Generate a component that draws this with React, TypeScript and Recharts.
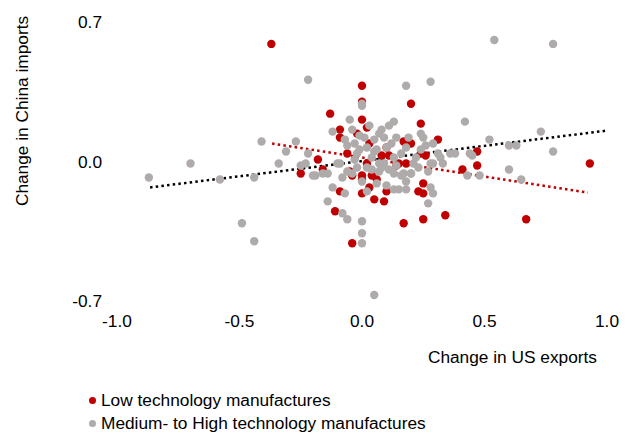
import React from 'react';
import { ReferenceLine, Scatter, ScatterChart, XAxis, YAxis, Label } from 'recharts';

const xTicks = [-1.0, -0.5, 0.0, 0.5, 1.0];
const yTicks = [-0.7, 0.0, 0.7];

// Low technology manufactures: [US exports change, China imports change]
const lowTech: [number, number][] = [
  [-0.37, 0.59], [0.0, 0.38], [0.0, 0.3], [0.0, 0.21], [0.02, 0.17], [-0.02, 0.14],
  [-0.13, 0.24], [-0.09, 0.16], [-0.09, 0.12], [0.2, 0.29], [0.24, 0.19], [0.31, 0.11],
  [0.17, 0.1], [0.2, 0.09], [-0.18, 0.01], [-0.16, -0.04], [-0.25, -0.06], [0.47, 0.05],
  [0.41, -0.04], [0.47, -0.02], [0.93, -0.01], [-0.09, -0.15], [0.0, -0.16], [0.05, -0.19],
  [0.09, -0.2], [-0.11, -0.25], [-0.04, -0.41], [0.17, -0.31], [0.25, -0.29], [0.34, -0.27],
  [0.67, -0.29], [0.23, -0.15], [0.25, -0.16], [0.25, -0.11], [0.1, -0.15], [-0.05, -0.05],
  [0.0, -0.07], [0.03, -0.13], [-0.06, 0.04], [0.14, -0.02], [0.03, 0.09], [0.08, 0.03],
  [0.02, -0.01], [-0.04, -0.07], [0.1, 0.07], [0.11, 0.03], [0.24, 0.04], [0.26, 0.03],
  [0.18, -0.01], [0.04, -0.07], [0.06, -0.09], [0.0, -0.09], [0.15, -0.01],
];

// Medium- to High technology manufactures
const highTech: [number, number][] = [
  [-0.87, -0.08], [-0.7, -0.01], [-0.58, -0.09], [-0.44, -0.08], [-0.49, -0.31], [-0.44, -0.4],
  [-0.41, 0.1], [-0.34, -0.01], [-0.22, 0.41], [0.18, 0.38], [0.28, 0.4], [0.0, 0.29],
  [-0.05, 0.21], [-0.12, 0.15], [-0.04, 0.16], [0.13, 0.2], [0.11, 0.18], [0.07, 0.14],
  [-0.27, 0.1], [-0.31, 0.05], [-0.22, 0.04], [-0.25, -0.02], [0.24, 0.14], [0.25, 0.12],
  [0.29, 0.09], [0.36, 0.04], [0.54, 0.61], [0.78, 0.59], [0.42, 0.2], [0.73, 0.15],
  [0.52, 0.11], [0.6, 0.08], [0.63, 0.08], [0.78, 0.05], [0.38, 0.04], [0.44, 0.04],
  [0.45, 0.03], [0.32, 0.02], [0.6, -0.04], [-0.23, -0.01], [-0.19, -0.07], [-0.16, -0.06],
  [-0.12, -0.13], [-0.07, -0.16], [-0.14, -0.2], [-0.08, -0.26], [-0.06, -0.29], [0.0, -0.3],
  [0.0, -0.36], [0.0, -0.41], [0.02, -0.15], [0.06, -0.11], [0.1, -0.12], [0.13, -0.14],
  [0.15, -0.14], [0.18, -0.14], [0.2, -0.06], [0.18, -0.1], [0.28, -0.13], [0.29, -0.16],
  [0.27, -0.21], [0.05, -0.67], [-0.1, -0.01], [-0.08, -0.08], [-0.06, -0.05], [0.0, -0.1],
  [0.17, -0.06], [0.27, -0.05], [0.29, -0.01], [0.33, -0.01], [0.43, -0.07], [0.48, -0.07],
  [0.65, -0.09], [0.0, 0.28], [0.01, 0.12], [0.02, 0.07], [-0.06, 0.08], [-0.02, 0.04],
  [0.05, 0.05], [0.1, 0.07], [-0.09, -0.01], [0.07, -0.01], [-0.02, -0.03], [0.09, 0.12],
  [0.14, 0.12], [0.18, 0.07], [0.24, 0.06], [0.31, 0.04], [0.13, 0.02], [0.21, -0.01],
  [0.28, -0.01], [-0.2, -0.07], [-0.14, -0.06], [-0.04, -0.06], [0.02, -0.03], [0.07, -0.05],
  [0.09, -0.01], [0.13, -0.06], [0.16, -0.07], [0.2, -0.06], [0.14, -0.02], [0.08, -0.03],
  [0.03, 0.18], [-0.01, 0.13], [0.05, 0.11], [-0.07, 0.11], [0.04, 0.02], [-0.03, 0.09],
  [0.06, 0.06], [0.12, 0.09], [0.16, 0.04], [0.22, 0.02], [0.04, -0.04], [0.11, -0.04],
  [-0.01, 0.06], [0.19, 0.12], [0.26, 0.08], [0.08, 0.16], [-0.03, 0.01], [0.23, -0.03],
];

// trend line end points
const allTrend = [{ x: -0.865, y: -0.13 }, { x: 1.0, y: 0.155 }];
const lowTrend = [{ x: -0.367, y: 0.09 }, { x: 0.922, y: -0.156 }];

const RED = '#C00000';
const GREY = '#AFABAB';
const FONT = '"Liberation Sans", Arial, sans-serif';
const FS = 17.3;

const toPts = (arr: [number, number][]) => arr.map(([x, y]) => ({ x, y }));

const dot = (color: string) => (props: any) => (
  <circle cx={props.cx} cy={props.cy} r={4.2} fill={color} />
);

const legendItems = [
  { label: 'Low technology manufactures', color: RED },
  { label: 'Medium- to High technology manufactures', color: GREY },
];

export default function App() {
  return (
    <div style={{ position: 'absolute', left: 0, top: 0, width: 634, height: 432, fontFamily: FONT, background: '#fff' }}>
      <ScatterChart width={634} height={432} margin={{ top: 22, right: 27, bottom: 71, left: 0 }}>
        <XAxis
          type="number"
          dataKey="x"
          domain={[-1, 1]}
          ticks={xTicks}
          tickFormatter={(v: number) => v.toFixed(1)}
          axisLine={false}
          tickLine={false}
          tickMargin={8}
          height={60}
          tick={{ fill: '#000', fontSize: FS, fontFamily: FONT }}
        >
          <Label
            content={() => (
              <text x={597} y={363} textAnchor="end" fill="#000" fontSize={FS} fontFamily={FONT}>
                Change in US exports
              </text>
            )}
          />
        </XAxis>
        <YAxis
          type="number"
          dataKey="y"
          domain={[-0.7, 0.7]}
          ticks={yTicks}
          tickFormatter={(v: number) => v.toFixed(1)}
          axisLine={false}
          tickLine={false}
          tickMargin={9}
          width={117}
          tick={{ fill: '#000', fontSize: FS, fontFamily: FONT }}
        >
          <Label
            content={() => (
              <text
                x={28}
                y={111}
                textAnchor="middle"
                fill="#000"
                fontSize={FS}
                fontFamily={FONT}
                transform="rotate(-90 28 111)"
              >
                Change in China imports
              </text>
            )}
          />
        </YAxis>
        <Scatter data={toPts(lowTech)} shape={dot(RED)} isAnimationActive={false} />
        <Scatter data={toPts(highTech)} shape={dot(GREY)} isAnimationActive={false} />
        <ReferenceLine segment={lowTrend} stroke={RED} strokeWidth={2.5} strokeDasharray="2.5 3.2" />
        <ReferenceLine segment={allTrend} stroke="#000" strokeWidth={2.5} strokeDasharray="2.5 3.2" />
      </ScatterChart>
      <div style={{ position: 'absolute', left: 89, top: 389, fontSize: FS, lineHeight: '23px', color: '#000' }}>
        {legendItems.map((it) => (
          <div key={it.label} style={{ display: 'flex', alignItems: 'center' }}>
            <span
              style={{ display: 'inline-block', width: 7, height: 7, borderRadius: '50%', background: it.color, marginRight: 5 }}
            />
            {it.label}
          </div>
        ))}
      </div>
    </div>
  );
}
